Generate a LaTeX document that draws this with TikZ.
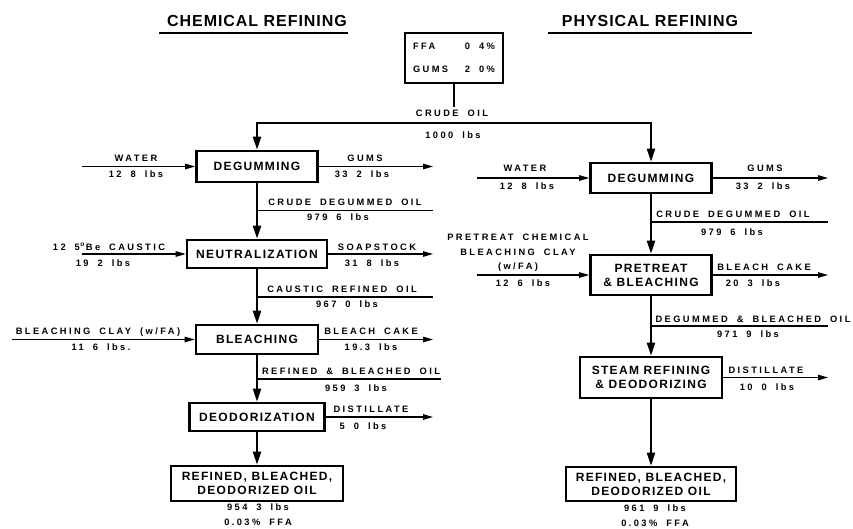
\documentclass[tikz,border=0pt]{standalone}
\usepackage{fontspec}
\setmainfont{Liberation Sans}
\newfontfamily\lblfam{Liberation Sans}[LetterSpace=26,WordSpace=1.8]
\newfontfamily\boxfam{Liberation Sans}[LetterSpace=11]
\newfontfamily\ttlfam{Liberation Sans}[LetterSpace=6]
\usetikzlibrary{arrows.meta}
\begin{document}
\begin{tikzpicture}[x=1pt,y=-1pt,
  proc/.style={draw, line width=2.6pt, inner sep=0pt, align=center,
    font=\boxfam\bfseries\fontsize{12}{14}\selectfont},
  lbl/.style={inner sep=0pt, text height=6.7pt, text depth=0pt,
    font=\lblfam\bfseries\fontsize{9.3}{14.5}\selectfont},
  lblm/.style={inner sep=0pt, align=center,
    font=\lblfam\bfseries\fontsize{9.3}{14.5}\selectfont},
  ttl/.style={inner sep=0pt, font=\ttlfam\bfseries\fontsize{16}{18}\selectfont},
  mainln/.style={line width=2pt},
  mainarr/.style={mainln, -{Triangle[length=13pt,width=8pt]}},
  sideln/.style={line width=1.1pt},
  sidearr/.style={sideln, -{Triangle[length=10pt,width=5.5pt]}},
  uline/.style={line width=2pt}
]
\useasboundingbox (0,0) rectangle (853,528);

% titles
\node[ttl] (t1) at (257,21) {CHEMICAL REFINING};
\node[ttl] (t2) at (650,21) {PHYSICAL REFINING};
\coordinate (u1a) at (159,33); \coordinate (u1b) at (348,33);
\coordinate (u2a) at (548,33); \coordinate (u2b) at (752,33);
\draw[uline] (u1a) -- (u1b);
\draw[uline] (u2a) -- (u2b);

% feed box
\node[draw, line width=2.6pt, inner sep=0pt, minimum width=98pt, minimum height=50pt, lblm] (ffa) at (454,58)
  {\makebox[82pt]{FFA\hfill 0 4\%}\\[8.5pt]\makebox[82pt]{GUMS\hfill 2 0\%}};
\coordinate (split) at (454,123);
\node[lbl, outer sep=3pt] (crude) at (452,113) {CRUDE OIL};
\node[lbl] (crudew) at (453,135) {1000 lbs};
\draw[mainln] (ffa.south) -- (ffa.south |- crude.north);

% chemical boxes
\node[proc, minimum width=121pt, minimum height=31pt] (cdeg) at (257,166.5) {DEGUMMING};
\node[proc, minimum width=140pt, minimum height=28pt] (cneu) at (257,254) {NEUTRALIZATION};
\node[proc, minimum width=122pt, minimum height=29pt] (cble) at (257,339.5) {BLEACHING};
\node[proc, minimum width=135pt, minimum height=28pt] (cdeo) at (257,417) {DEODORIZATION};
\node[proc, minimum width=172pt, minimum height=35pt] (cfin) at (257,483.5) {REFINED, BLEACHED,\\DEODORIZED OIL};

% physical boxes
\node[proc, minimum width=121pt, minimum height=30pt] (pdeg) at (651,178) {DEGUMMING};
\node[proc, minimum width=121pt, minimum height=40pt] (ppre) at (651,275) {PRETREAT\\\& BLEACHING};
\node[proc, minimum width=142pt, minimum height=41pt] (pste) at (651,377.5) {STEAM REFINING\\\& DEODORIZING};
\node[proc, minimum width=170pt, minimum height=34pt] (pfin) at (651,484) {REFINED, BLEACHED,\\DEODORIZED OIL};

% crude oil split
\draw[mainarr] (split) -| (cdeg);
\draw[mainarr] (split) -| (pdeg);

% chemical main flow
\draw[mainarr] (cdeg) -- (cneu);
\draw[mainarr] (cneu) -- (cble);
\draw[mainarr] (cble) -- (cdeo);
\draw[mainarr] (cdeo) -- (cfin);

% physical main flow
\draw[mainarr] (pdeg) -- (ppre);
\draw[mainarr] (ppre) -- (pste);
\draw[mainarr] (pste) -- (pfin);

% ---- chemical side streams
\coordinate (cw) at (82,166.5);
\coordinate (cg) at (433,166.5);
\draw[sidearr] (cw) -- (cdeg.west);
\draw[sidearr] (cdeg.east) -- (cg);
\node[lbl] (cwl) at (136,158) {WATER};
\node[lbl] (cwv) at (136,174.5) {12 8 lbs};
\node[lbl] (cgl) at (365,158) {GUMS};
\node[lbl] (cgv) at (362,174.5) {33 2 lbs};

\coordinate (cb1) at (257,210.5); \coordinate (cb1e) at (433,210.5);
\draw[sideln] (cb1) -- (cb1e);
\node[lbl] (cb1l) at (345,202) {CRUDE DEGUMMED OIL};
\node[lbl] (cb1v) at (338,217.5) {979 6 lbs};

\coordinate (cc) at (82,254);
\coordinate (cs) at (433,254);
\draw[sidearr] (cc) -- (cneu.west);
\draw[sidearr] (cneu.east) -- (cs);
\node[lbl] (ccl) at (109,247) {12 5\kern0.5pt\textsuperscript{o}\kern1pt Be CAUSTIC};
\node[lbl] (ccv) at (103,263) {19 2 lbs};
\node[lbl] (csl) at (377,247) {SOAPSTOCK};
\node[lbl] (csv) at (372,263) {31 8 lbs};

\coordinate (cb2) at (257,297); \coordinate (cb2e) at (433,297);
\draw[sideln] (cb2) -- (cb2e);
\node[lbl] (cb2l) at (342,289) {CAUSTIC REFINED OIL};
\node[lbl] (cb2v) at (347,304) {967 0 lbs};

\coordinate (cy) at (12,339.5);
\coordinate (ck) at (433,339.5);
\draw[sidearr] (cy) -- (cble.west);
\draw[sidearr] (cble.east) -- (ck);
\node[lbl] (cyl) at (98,331) {BLEACHING CLAY (w/FA)};
\node[lbl] (cyv) at (101,347) {11 6 lbs.};
\node[lbl] (ckl) at (371,331) {BLEACH CAKE};
\node[lbl] (ckv) at (371,347) {19.3 lbs};

\coordinate (cb3) at (257,379); \coordinate (cb3e) at (441,379);
\draw[sideln] (cb3) -- (cb3e);
\node[lbl] (cb3l) at (351,371) {REFINED \& BLEACHED OIL};
\node[lbl] (cb3v) at (356,388) {959 3 lbs};

\coordinate (cd) at (433,417);
\draw[sidearr] (cdeo.east) -- (cd);
\node[lbl] (cdl) at (371,409) {DISTILLATE};
\node[lbl] (cdv) at (363,426) {5 0 lbs};

\node[lbl] (cfv) at (258,507) {954 3 lbs};
\node[lbl] (cff) at (258,522) {0.03\% FFA};

% ---- physical side streams
\coordinate (pw) at (477,178);
\coordinate (pg) at (828,178);
\draw[sidearr] (pw) -- (pdeg.west);
\draw[sidearr] (pdeg.east) -- (pg);
\node[lbl] (pwl) at (525,168) {WATER};
\node[lbl] (pwv) at (527,186) {12 8 lbs};
\node[lbl] (pgl) at (765,168) {GUMS};
\node[lbl] (pgv) at (763,186) {33 2 lbs};

\coordinate (pb1) at (651,222); \coordinate (pb1e) at (828,222);
\draw[sideln] (pb1) -- (pb1e);
\node[lbl] (pb1l) at (733,214) {CRUDE DEGUMMED OIL};
\node[lbl] (pb1v) at (732,232) {979 6 lbs};

\coordinate (py) at (477,275);
\coordinate (pk) at (828,275);
\draw[sidearr] (py) -- (ppre.west);
\draw[sidearr] (ppre.east) -- (pk);
\node[lblm, anchor=south] (pyl) at (518,272) {PRETREAT CHEMICAL\\BLEACHING CLAY\\(w/FA)};
\node[lbl] (pyv) at (523,283) {12 6 lbs};
\node[lbl] (pkl) at (764,267) {BLEACH CAKE};
\node[lbl] (pkv) at (753,283) {20 3 lbs};

\coordinate (pb2) at (651,326); \coordinate (pb2e) at (828,326);
\draw[sideln] (pb2) -- (pb2e);
\node[lbl] (pb2l) at (753,319) {DEGUMMED \& BLEACHED OIL};
\node[lbl] (pb2v) at (748,334) {971 9 lbs};

\coordinate (pd) at (828,377.5);
\draw[sidearr] (pste.east) -- (pd);
\node[lbl] (pdl) at (766,370) {DISTILLATE};
\node[lbl] (pdv) at (767,387) {10 0 lbs};

\node[lbl] (pfv) at (655,508) {961 9 lbs};
\node[lbl] (pff) at (655,523) {0.03\% FFA};
\end{tikzpicture}
\end{document}
